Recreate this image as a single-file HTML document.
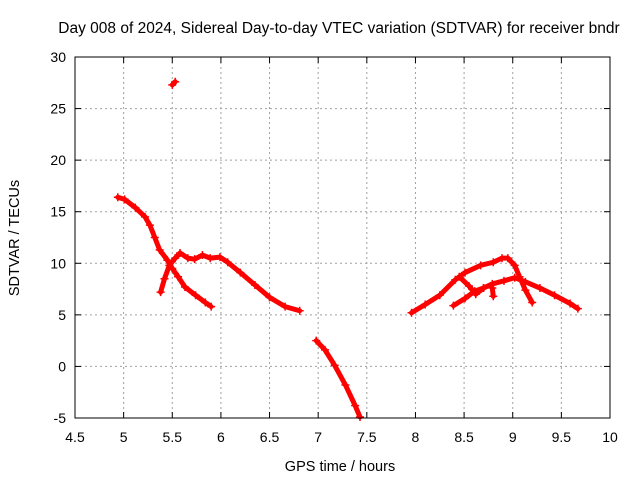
<!DOCTYPE html>
<html><head><meta charset="utf-8"><style>
body{margin:0;background:#fff;}
svg{display:block;font-family:"Liberation Sans",sans-serif;}
</style></head><body>
<svg id="chart" width="640" height="480">
<text x="339" y="33" font-size="15.5" text-anchor="middle">Day 008 of 2024, Sidereal Day-to-day VTEC variation (SDTVAR) for receiver bndr</text>
<text x="340" y="471" font-size="14.5" text-anchor="middle">GPS time / hours</text>
<text transform="translate(19,238) rotate(-90)" font-size="14.5" text-anchor="middle">SDTVAR / TECUs</text>
<g id="grid"></g><g id="ticks"></g><g id="series"></g>
<rect x="75" y="57" width="535" height="361" fill="none" stroke="#000" stroke-width="1"/>
</svg>
<script>
const xTicks=[4.5,5,5.5,6,6.5,7,7.5,8,8.5,9,9.5,10];
const xTickLabels=["4.5","5","5.5","6","6.5","7","7.5","8","8.5","9","9.5","10"];
const yTicks=[-5,0,5,10,15,20,25,30];
const yTickLabels=["-5","0","5","10","15","20","25","30"];
const seriesA_x=[4.94,5.01,5.12,5.22,5.27,5.32,5.37,5.45,5.5,5.56,5.63,5.74,5.84,5.9];
const seriesA_y=[16.4,16.2,15.4,14.5,13.7,12.5,11.3,10.3,9.5,8.7,7.7,6.9,6.2,5.8];
const seriesB_x=[5.38,5.42,5.47,5.53,5.58,5.66,5.73,5.81,5.89,5.99,6.07,6.2,6.35,6.5,6.66,6.81];
const seriesB_y=[7.2,8.5,9.8,10.5,11.0,10.5,10.4,10.8,10.5,10.6,10.1,9.1,7.9,6.7,5.8,5.4];
const seriesC_x=[5.5,5.53];
const seriesC_y=[27.3,27.6];
const seriesD_x=[6.98,7.07,7.17,7.28,7.38,7.43];
const seriesD_y=[2.5,1.6,0.1,-1.8,-3.8,-4.9];
const seriesE_x=[7.96,8.1,8.25,8.41,8.51,8.67,8.8,8.89,8.95,9.02,9.07,9.13,9.2];
const seriesE_y=[5.2,6.0,6.9,8.4,9.1,9.8,10.1,10.5,10.5,9.8,8.7,7.4,6.2];
const seriesF_x=[8.39,8.51,8.61,8.7,8.79,8.91,9.02,9.13,9.28,9.43,9.59,9.67];
const seriesF_y=[5.9,6.6,7.3,7.6,8.0,8.3,8.6,8.2,7.6,6.9,6.1,5.6];
const seriesG_x=[8.45,8.55,8.62,8.7];
const seriesG_y=[8.7,7.8,7.0,7.6];
const seriesH_x=[8.79,8.8];
const seriesH_y=[7.6,6.8];
const NS="http://www.w3.org/2000/svg";
const L=75,R=610,T=57,B=418;
function sx(v){return L+(v-4.5)/(10-4.5)*(R-L);}
function sy(v){return T+(30-v)/35*(B-T);}
const grid=document.getElementById('grid'),ticks=document.getElementById('ticks'),ser=document.getElementById('series');
function mk(tag,attrs,parent){const e=document.createElementNS(NS,tag);for(const k in attrs)e.setAttribute(k,attrs[k]);parent.appendChild(e);return e;}
xTicks.forEach((v,i)=>{const x=sx(v);
 if(i>0&&i<xTicks.length-1){const g=mk('line',{x1:x,x2:x,y1:T,y2:B,stroke:'#a0a0a0','stroke-dasharray':'2,3'},grid);
 
 }
 const t=mk('text',{x:x,y:B+24,'font-size':14,'text-anchor':'middle'},ticks);t.textContent=xTickLabels[i];
 
 
 mk('line',{x1:x,x2:x,y1:B,y2:B-6,stroke:'#000'},ticks);mk('line',{x1:x,x2:x,y1:T,y2:T+6,stroke:'#000'},ticks);});
yTicks.forEach((v,i)=>{const y=sy(v);
 if(i>0&&i<yTicks.length-1){const g=mk('line',{x1:L,x2:R,y1:y,y2:y,stroke:'#a0a0a0','stroke-dasharray':'2,3'},grid);
 
 }
 const t=mk('text',{x:L-9,y:y+5,'font-size':14,'text-anchor':'end'},ticks);t.textContent=yTickLabels[i];
 
 
 mk('line',{x1:L,x2:L+6,y1:y,y2:y,stroke:'#000'},ticks);mk('line',{x1:R,x2:R-6,y1:y,y2:y,stroke:'#000'},ticks);});
function draw(xs,ys,name){
 const g=mk('g',{},ser);
 
 
 const pts=xs.map((v,i)=>sx(v)+','+sy(ys[i])).join(' ');
 mk('polyline',{points:pts,fill:'none',stroke:'#f00','stroke-width':5,'stroke-linejoin':'round','stroke-linecap':'round'},g);
 xs.forEach((v,i)=>{const x=sx(v),y=sy(ys[i]);
  mk('path',{d:`M${x-4},${y}H${x+4}M${x},${y-4}V${y+4}`,stroke:'#f00','stroke-width':1.5},g);});
}
draw(seriesA_x,seriesA_y,'series-a');
draw(seriesB_x,seriesB_y,'series-b');
draw(seriesC_x,seriesC_y,'series-c');
draw(seriesD_x,seriesD_y,'series-d');
draw(seriesE_x,seriesE_y,'series-e');
draw(seriesF_x,seriesF_y,'series-f');
draw(seriesG_x,seriesG_y,'series-g');
draw(seriesH_x,seriesH_y,'series-h');
</script>
</body></html>
